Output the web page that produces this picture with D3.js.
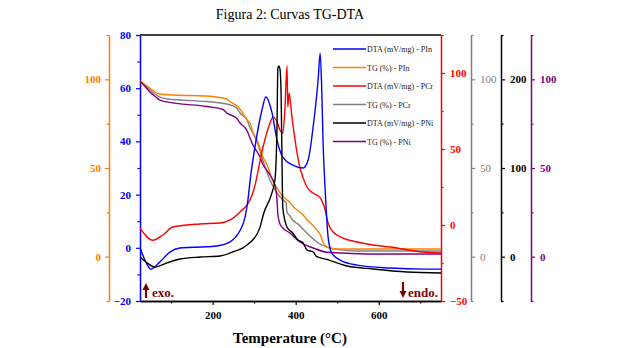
<!DOCTYPE html>
<html>
<head>
<meta charset="utf-8">
<script src="https://cdn.jsdelivr.net/npm/d3@7"></script>
<style>
  body { margin: 0; background: #fff; }
  svg { display: block; }
  text { font-family: "Liberation Serif", "Times New Roman", serif; }
</style>
</head>
<body>
<svg id="chart" width="640" height="348"></svg>
<script>
// DTA (mV/mg) - PIn  (blue, left axis)
const dtaPInT = [25, 38, 51, 73, 97, 121, 170, 210, 242, 255, 266, 278, 285, 290, 302, 319, 328, 343, 355, 369, 393, 418, 430, 442, 454, 459, 463, 466, 471, 478, 487, 507, 548, 627, 707, 750];
const dtaPIn  = [0, -5, -8, -5.3, -1.6, -0.1, 0.3, 0.7, 2.2, 4, 6.5, 11.5, 18, 25, 38, 52, 56.7, 50.7, 40.5, 34.1, 31.1, 30, 33, 45.4, 63.1, 73.2, 58.2, 39.4, 21.7, 4.1, -2, -4.6, -6.5, -7.6, -8, -8];

// TG (%) - PIn  (orange)
const tgPInT = [25, 35, 49, 73, 104, 186, 234, 242, 266, 283, 290, 297, 307, 314, 321, 331, 338, 343, 355, 369, 386, 393, 418, 427, 442, 451, 459, 466, 475, 483, 507, 750];
const tgPIn  = [99, 97.5, 95, 91.7, 91.2, 90.6, 88.9, 87.5, 83.3, 77, 75.4, 70, 65.8, 61.3, 56.2, 52, 47.2, 43.5, 38.7, 34, 30.5, 28.5, 23.5, 21, 17.5, 15, 12.5, 8, 5.5, 4.8, 4.3, 4.3];

// DTA (mV/mg) - PCr  (red)
const dtaPCrT = [25, 56, 80, 104, 169, 218, 242, 266, 290, 300, 321, 338, 345, 355, 362, 369, 374, 379, 381, 384, 391, 403, 410, 418, 427, 442, 459, 471, 478, 490, 514, 548, 586, 627, 707, 750];
const dtaPCr  = [-2, -10, -6.6, -1.3, 0.7, 1.3, 3.3, 8.6, 16.4, 24, 51, 67, 71, 68, 62.5, 60.5, 75.7, 104.6, 77.6, 86.8, 71, 48, 38, 31, 25, 21, 17.8, 9.9, 1.3, -4.6, -8.6, -11.2, -13.2, -14.5, -17.8, -18.4];

// TG (%) - PCr  (gray)
const tgPCrT = [25, 35, 49, 73, 104, 186, 234, 258, 266, 283, 290, 297, 307, 321, 338, 355, 369, 377, 379, 386, 393, 405, 418, 427, 451, 483, 507, 548, 750];
const tgPCr  = [99, 97, 94, 90, 88.6, 87.5, 86.1, 83.8, 81, 77.1, 72.6, 69.7, 64.7, 54.5, 43.2, 35.9, 32, 30.3, 25, 23, 20.5, 18.5, 15.5, 13.3, 8.3, 4.9, 3.8, 3.2, 3.2];

// DTA (mV/mg) - PNi  (black)
const dtaPNiT = [25, 42, 61, 90, 121, 170, 218, 249, 273, 290, 297, 314, 323, 340, 350, 355, 357, 359, 362, 365, 367, 369, 379, 393, 405, 418, 427, 442, 451, 475, 524, 586, 668, 750];
const dtaPNi  = [-0.4, -7, -11.6, -7, -2.6, -0.4, 0.8, 5.5, 10, 16, 19, 33, 49, 68, 86.5, 146, 212, 215, 212, 180, 110, 55, 33.5, 26.7, 19, 15.4, 7.5, 5.3, 0, -3, -10.5, -13.9, -17.3, -18.4];

// TG (%) - PNi  (purple)
const tgPNiT = [25, 35, 49, 66, 73, 104, 186, 225, 234, 258, 266, 283, 290, 297, 314, 321, 331, 338, 350, 355, 357, 362, 367, 386, 410, 442, 475, 507, 586, 750];
const tgPNi  = [99, 96.5, 92.9, 89.5, 88.3, 86.7, 84.7, 83, 81, 78, 75.4, 71, 66.9, 63, 56.2, 52, 48.5, 46.1, 40.4, 32, 24, 18.5, 16.7, 13.3, 8.3, 4.9, 2.5, 2.1, 1.5, 1.5];

const legendLabels = ['DTA (mV/mg) - PIn', 'TG (%) - PIn', 'DTA (mV/mg) - PCr', 'TG (%) - PCr', 'DTA (mV/mg) - PNi', 'TG (%) - PNi'];
const xTickValues = [200, 400, 600];
const xMinorTicks = [100, 300, 500, 700];

const svg = d3.select('#chart');
const plot = { left: 140, right: 441, top: 35, bottom: 301 };

const x = d3.scaleLinear().domain([25, 750]).range([plot.left, plot.right]);
const yRange = [plot.bottom, plot.top];
const yBlue = d3.scaleLinear().domain([-20, 80]).range(yRange);
const yOrange = d3.scaleLinear().domain([-25, 125]).range(yRange);
const yRed = d3.scaleLinear().domain([-50, 125]).range(yRange);
const yGray = d3.scaleLinear().domain([-25, 125]).range(yRange);
const yBlack = d3.scaleLinear().domain([-50, 250]).range(yRange);
const yPurple = d3.scaleLinear().domain([-25, 125]).range(yRange);

// title
svg.append('text')
    .attr('x', 290).attr('y', 19)
    .attr('text-anchor', 'middle')
    .style('font-size', '14px')
    .text('Figura 2: Curvas TG-DTA');

// top frame
svg.append('line')
    .attr('x1', plot.left).attr('x2', plot.right)
    .attr('y1', plot.top).attr('y2', plot.top)
    .attr('stroke', '#000').attr('stroke-width', 1.5);

function styleAxis(g, color, bold) {
    g.select('.domain').attr('stroke', color).attr('stroke-width', 1.5);
    g.selectAll('.tick line').attr('stroke', color).attr('stroke-width', 1.2);
    g.selectAll('.tick text')
        .attr('fill', color)
        .style('font-size', '11px')
        .style('font-weight', bold ? 'bold' : 'normal')
        .style('font-family', '"Liberation Serif", "Times New Roman", serif');
}

// x axis
const xg = svg.append('g').attr('transform', `translate(0,${plot.bottom})`);
xg.call(d3.axisBottom(x).tickValues(xTickValues).tickSize(4).tickPadding(6).tickSizeOuter(0));
styleAxis(xg, '#000', true);
const xgm = svg.append('g').attr('transform', `translate(0,${plot.bottom})`);
xgm.call(d3.axisBottom(x).tickValues(xMinorTicks).tickSize(2.5).tickFormat('').tickSizeOuter(0));
styleAxis(xgm, '#000', true);

svg.append('text')
    .attr('x', 290).attr('y', 343)
    .attr('text-anchor', 'middle')
    .style('font-size', '15px')
    .style('font-weight', 'bold')
    .text('Temperature (°C)');

// y axes
const yAxes = [
    { scale: yBlue, x: 140, side: 'left', color: '#0000ff', major: d3.range(-20, 81, 20), minor: d3.range(-10, 80, 20), bold: true, pad: 5 },
    { scale: yOrange, x: 109, side: 'left', color: '#ff8000', major: [0, 50, 100], minor: [-25, 25, 75, 125], bold: true, pad: 4 },
    { scale: yRed, x: 441, side: 'right', color: '#ff0000', major: [-50, 0, 50, 100], minor: [-25, 25, 75, 125], bold: true, pad: 5 },
    { scale: yGray, x: 471, side: 'right', color: '#808080', major: [0, 50, 100], minor: [-25, 25, 75, 125], bold: false, pad: 5 },
    { scale: yBlack, x: 501, side: 'right', color: '#000000', major: [0, 100, 200], minor: [-50, 50, 150, 250], bold: true, pad: 5 },
    { scale: yPurple, x: 531, side: 'right', color: '#800080', major: [0, 50, 100], minor: [-25, 25, 75, 125], bold: true, pad: 5 }
];

yAxes.forEach(a => {
    const axisFn = a.side === 'left' ? d3.axisLeft : d3.axisRight;
    const g = svg.append('g').attr('transform', `translate(${a.x},0)`);
    g.call(axisFn(a.scale).tickValues(a.major).tickSize(4).tickPadding(a.pad).tickSizeOuter(0));
    styleAxis(g, a.color, a.bold);
    const gm = svg.append('g').attr('transform', `translate(${a.x},0)`);
    gm.call(axisFn(a.scale).tickValues(a.minor).tickSize(2.5).tickFormat('').tickSizeOuter(0));
    styleAxis(gm, a.color, a.bold);
    gm.select('.domain').remove();
});

// curves
svg.append('defs').append('clipPath').attr('id', 'clip')
    .append('rect')
    .attr('x', plot.left).attr('y', plot.top)
    .attr('width', plot.right - plot.left).attr('height', plot.bottom - plot.top);

const series = [
    { t: dtaPInT, v: dtaPIn, y: yBlue, color: '#0000ff' },
    { t: tgPInT, v: tgPIn, y: yOrange, color: '#ff8000' },
    { t: dtaPCrT, v: dtaPCr, y: yRed, color: '#ff0000' },
    { t: tgPCrT, v: tgPCr, y: yGray, color: '#808080' },
    { t: dtaPNiT, v: dtaPNi, y: yBlack, color: '#000000' },
    { t: tgPNiT, v: tgPNi, y: yPurple, color: '#800080' }
];

const curves = svg.append('g').attr('clip-path', 'url(#clip)');
// TG first, DTA on top
[3, 1, 5, 2, 0, 4].forEach(i => {
    const s = series[i];
    const line = d3.line()
        .x((d, j) => x(s.t[j]))
        .y(d => s.y(d))
        .curve(d3.curveMonotoneX);
    curves.append('path')
        .attr('d', line(s.v))
        .attr('fill', 'none')
        .attr('stroke', s.color)
        .attr('stroke-width', 1.4);
});

// legend
const legend = svg.append('g');
legendLabels.forEach((lbl, i) => {
    const yy = 49 + i * 18.5;
    legend.append('line')
        .attr('x1', 333).attr('x2', 366)
        .attr('y1', yy).attr('y2', yy)
        .attr('stroke', series[i].color)
        .attr('stroke-width', 1.5);
    legend.append('text')
        .attr('x', 367).attr('y', yy + 3)
        .style('font-size', '8px')
        .attr('fill', '#222')
        .text(lbl);
});

// exo / endo markers
const marker = '#7f0000';
function arrow(xp, yTail, yHead) {
    const dir = yHead < yTail ? 1 : -1;
    svg.append('line')
        .attr('x1', xp).attr('x2', xp)
        .attr('y1', yTail).attr('y2', yHead + dir * 5)
        .attr('stroke', marker).attr('stroke-width', 2.2);
    svg.append('path')
        .attr('d', `M${xp},${yHead} L${xp - 3.5},${yHead + dir * 7} L${xp + 3.5},${yHead + dir * 7} Z`)
        .attr('fill', marker);
}
arrow(146, 298, 283);
svg.append('text')
    .attr('x', 152).attr('y', 297)
    .style('font-size', '13px').style('font-weight', 'bold')
    .attr('fill', marker)
    .text('exo.');
arrow(403, 282, 298);
svg.append('text')
    .attr('x', 408).attr('y', 297)
    .style('font-size', '13px').style('font-weight', 'bold')
    .attr('fill', marker)
    .text('endo.');
</script>
</body>
</html>
